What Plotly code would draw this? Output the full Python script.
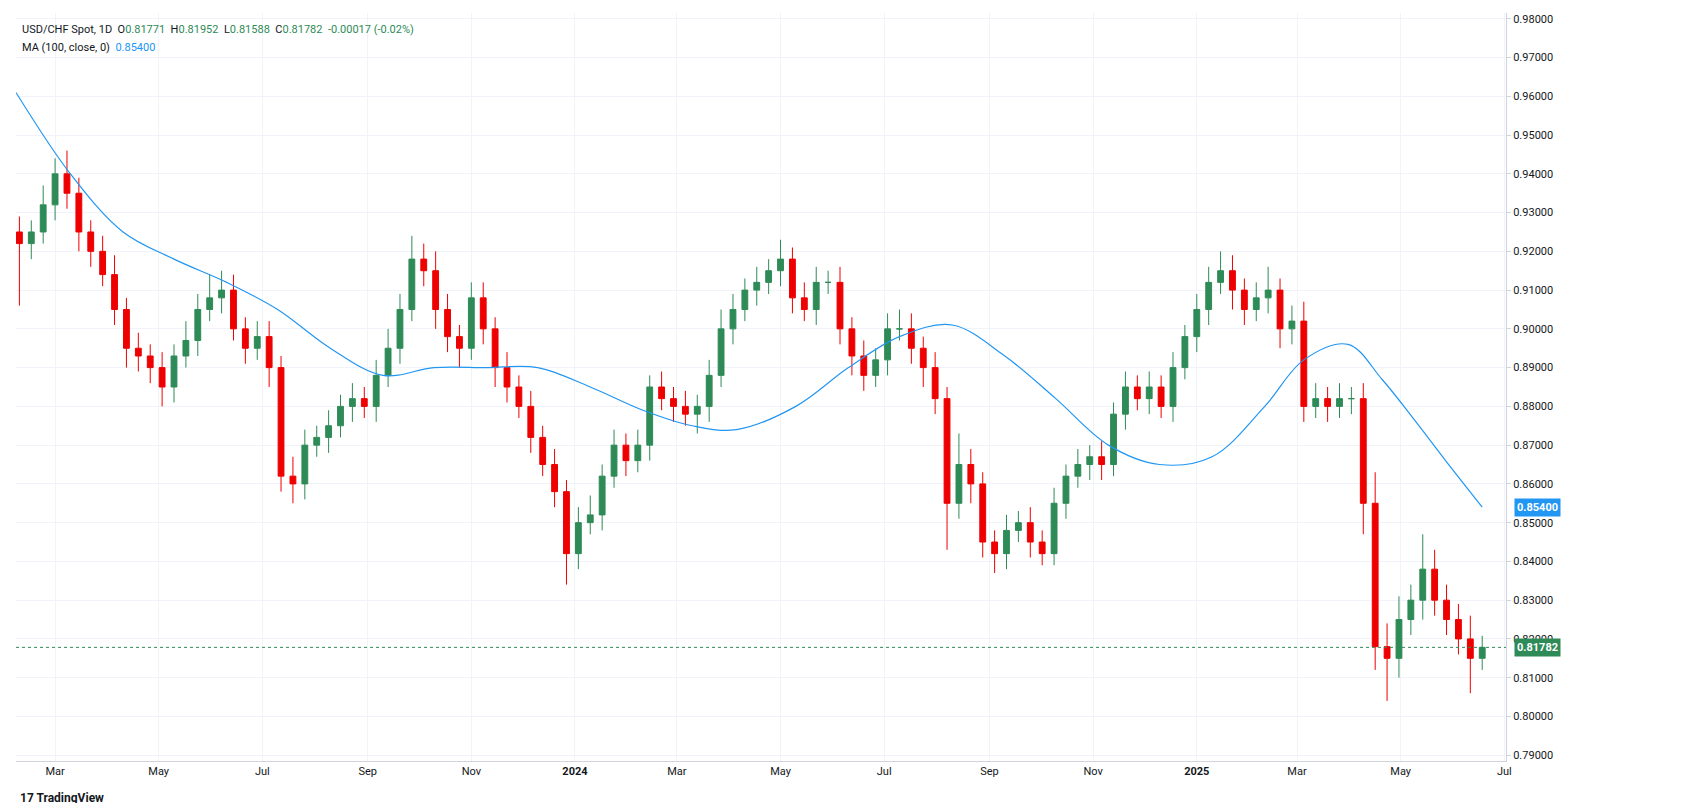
import pandas as pd
import plotly.graph_objects as go

closes = [0.922,0.925,0.932,0.940, 0.935,0.925,0.920,0.914, 0.905,0.895,0.893,0.890,
 0.885,0.893,0.897,0.905,0.908, 0.910,0.900,0.895,0.898, 0.890,0.862,0.860,0.870,0.872,
 0.875,0.880,0.882,0.880, 0.888,0.895,0.905,0.918, 0.915,0.905,0.898,0.895,0.908,
 0.900,0.890,0.885,0.880, 0.872,0.865,0.858,0.842,
 0.850,0.852,0.862,0.870,0.866, 0.870,0.885,0.882,0.880, 0.878,0.880,0.888,0.900,
 0.905,0.910,0.912,0.915,0.918, 0.908,0.905,0.912,0.912, 0.900,0.893,0.888,0.892,
 0.900,0.900,0.895,0.890,0.882, 0.855,0.865,0.860,0.845, 0.842,0.848,0.850,0.845,0.842,
 0.855,0.862,0.865,0.867, 0.865,0.878,0.885,0.882, 0.885,0.880,0.890,0.898,0.905,
 0.912,0.915,0.910,0.905, 0.908,0.910,0.900,0.902, 0.880,0.882,0.880,0.882,0.882,
 0.855,0.818,0.815,0.825, 0.830,0.838,0.830,0.825, 0.820,0.815,0.81782]
opens = [0.925] + closes[:-1]
wick_up = [0.004,0.003,0.005,0.004, 0.006,0.004,0.003,0.004, 0.005,0.003,0.004,0.003,
 0.004,0.003,0.005,0.004,0.006, 0.005,0.004,0.003,0.004, 0.004,0.003,0.005,0.004,0.003,
 0.004,0.003,0.004,0.003, 0.004,0.005,0.004,0.006, 0.004,0.005,0.004,0.003,0.004,
 0.004,0.003,0.004,0.003, 0.004,0.003,0.004,0.003,
 0.004,0.005,0.003,0.004,0.003, 0.004,0.003,0.004,0.003, 0.004,0.003,0.004,0.005,
 0.004,0.003,0.004,0.003,0.005, 0.003,0.004,0.004,0.003, 0.004,0.003,0.004,0.003,
 0.004,0.005,0.004,0.003,0.004, 0.003,0.008,0.004,0.003, 0.003,0.004,0.003,0.004,0.003,
 0.004,0.003,0.004,0.003, 0.004,0.003,0.004,0.003, 0.004,0.003,0.004,0.003,0.004,
 0.004,0.005,0.004,0.003, 0.004,0.006,0.003,0.004, 0.005,0.004,0.003,0.004,0.003,
 0.004,0.008,0.006,0.006, 0.004,0.009,0.005,0.004, 0.004,0.006,0.003]
wick_dn = [0.016,0.004,0.003,0.004, 0.004,0.005,0.004,0.003, 0.004,0.005,0.004,0.004,
 0.005,0.004,0.003,0.004,0.003, 0.004,0.003,0.004,0.003, 0.005,0.004,0.005,0.004,0.003,
 0.004,0.003,0.004,0.003, 0.004,0.003,0.004,0.003, 0.004,0.005,0.004,0.005,0.003,
 0.004,0.005,0.004,0.003, 0.004,0.003,0.004,0.008,
 0.004,0.003,0.004,0.003,0.004, 0.003,0.004,0.003,0.004, 0.003,0.005,0.004,0.003,
 0.004,0.003,0.004,0.003,0.004, 0.004,0.003,0.004,0.003, 0.004,0.005,0.004,0.003,
 0.004,0.003,0.004,0.005,0.004, 0.012,0.004,0.005,0.004, 0.005,0.004,0.003,0.004,0.003,
 0.003,0.004,0.003,0.004, 0.004,0.003,0.004,0.003, 0.004,0.003,0.004,0.003,0.004,
 0.004,0.003,0.005,0.004, 0.003,0.004,0.005,0.004, 0.004,0.003,0.004,0.003,0.004,
 0.008,0.006,0.011,0.005, 0.004,0.005,0.004,0.004, 0.004,0.009,0.003]
dates = pd.date_range("2023-02-06", periods=len(closes), freq="W-MON") + pd.Timedelta(days=2)
highs = [max(o, c) + w for o, c, w in zip(opens, closes, wick_up)]
lows = [min(o, c) - w for o, c, w in zip(opens, closes, wick_dn)]

ma_dates = ["2023-02-06","2023-03-10","2023-04-10","2023-05-10","2023-06-10","2023-07-10",
 "2023-08-10","2023-09-10","2023-10-10","2023-11-10","2023-12-10","2024-01-10","2024-02-10",
 "2024-03-10","2024-04-05","2024-05-10","2024-06-10","2024-07-10","2024-08-10","2024-09-10",
 "2024-10-10","2024-11-10","2024-12-10","2025-01-10","2025-02-10","2025-03-05","2025-03-31",
 "2025-04-20","2025-05-10","2025-05-31","2025-06-18"]
ma_vals = [0.961,0.940,0.925,0.918,0.912,0.905,0.895,0.888,0.890,0.890,0.890,0.885,0.879,
 0.875,0.874,0.880,0.890,0.898,0.901,0.893,0.882,0.870,0.865,0.867,0.880,0.892,0.896,
 0.887,0.876,0.864,0.854]

tickvals = ["2023-03-01","2023-05-01","2023-07-01","2023-09-01","2023-11-01","2024-01-01",
 "2024-03-01","2024-05-01","2024-07-01","2024-09-01","2024-11-01","2025-01-01",
 "2025-03-01","2025-05-01","2025-07-01"]
ticktext = ["Mar","May","Jul","Sep","Nov","<b>2024</b>","Mar","May","Jul","Sep","Nov",
 "<b>2025</b>","Mar","May","Jul"]

UP, DN = "#2E8B57", "#EE0000"
fig = go.Figure()
fig.add_trace(go.Candlestick(x=dates, open=opens, high=highs, low=lows, close=closes,
    increasing=dict(line=dict(color=UP, width=1), fillcolor=UP),
    decreasing=dict(line=dict(color=DN, width=1), fillcolor=DN), whiskerwidth=0))
fig.add_trace(go.Scatter(x=ma_dates, y=ma_vals, mode="lines", line=dict(color="#2196F3", width=1.2, shape="spline")))
fig.add_hline(y=closes[-1], line=dict(color=UP, width=1, dash="dot"))

fig.update_layout(
    width=1708, height=803, paper_bgcolor="white", plot_bgcolor="white", showlegend=False,
    margin=dict(l=8, r=210, t=5, b=50), font=dict(family="Roboto, Arial", size=11, color="#131722"),
    xaxis=dict(range=["2023-02-06","2025-07-02"], rangeslider=dict(visible=False),
        tickvals=tickvals, ticktext=ticktext, showgrid=True, gridcolor="#f0f3fa",
        showline=True, linecolor="#d1d4dc", ticks="", mirror=False),
    yaxis=dict(side="right", range=[0.7885, 0.9815], dtick=0.01, tickformat=".5f",
        showgrid=True, gridcolor="#f0f3fa", showline=True, linecolor="#d1d4dc", ticks="outside",
        ticklen=4, tickcolor="#d1d4dc"),
)
for val, col in [(ma_vals[-1], "#2196F3"), (closes[-1], UP)]:
    fig.add_annotation(x=1, xref="paper", xanchor="left", xshift=8, y=val, yref="y",
        text=f"<b>{val:.5f}</b>", showarrow=False, bgcolor=col, font=dict(color="white", size=11),
        borderpad=2)
fig.add_annotation(x=0, y=1, xref="paper", yref="paper", xanchor="left", yanchor="top", xshift=4, yshift=-8,
    showarrow=False, align="left",
    text="USD/CHF Spot, 1D  O<span style='color:#2E8B57'>0.81771</span>  H<span style='color:#2E8B57'>0.81952</span>  L<span style='color:#2E8B57'>0.81588</span>  C<span style='color:#2E8B57'>0.81782  -0.00017 (-0.02%)</span>")
fig.add_annotation(x=0, y=1, xref="paper", yref="paper", xanchor="left", yanchor="top", xshift=4, yshift=-26,
    showarrow=False, text="MA (100, close, 0)  <span style='color:#2196F3'>0.85400</span>")
fig.add_annotation(x=0, y=0, xref="paper", yref="paper", xanchor="left", yanchor="top", xshift=2, yshift=-28,
    showarrow=False, text="<b>17 TradingView</b>", font=dict(size=12))
fig.write_html("out.html")
